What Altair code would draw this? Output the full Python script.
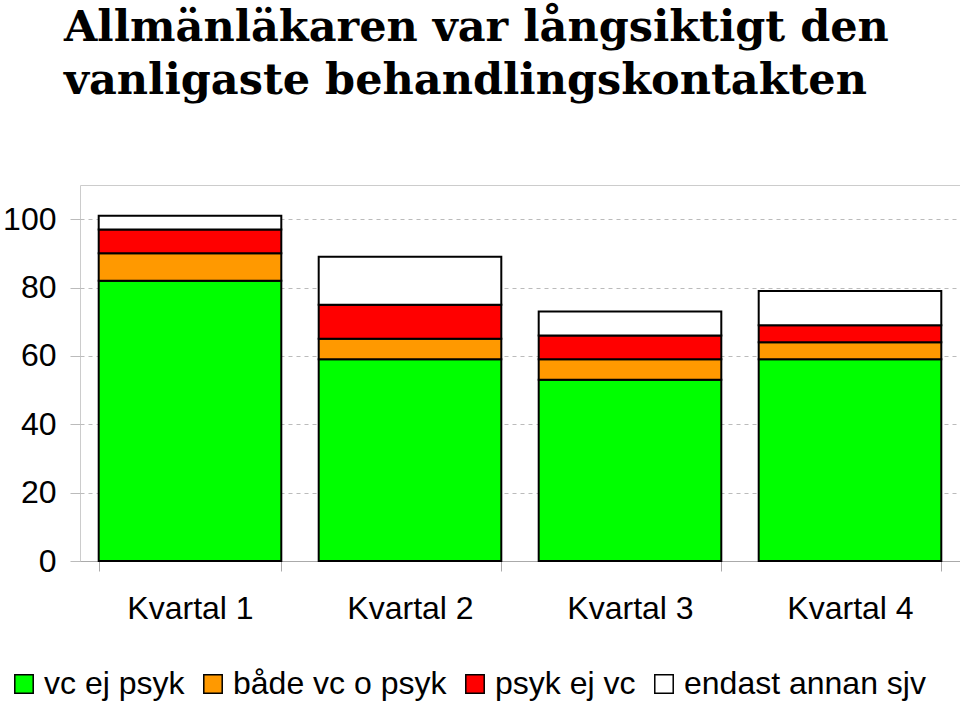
import altair as alt
import pandas as pd

quarters = ["Kvartal 1", "Kvartal 2", "Kvartal 3", "Kvartal 4"]
series = ["vc ej psyk", "både vc o psyk", "psyk ej vc", "endast annan sjv"]
colors = ["#00ff00", "#ff9900", "#ff0000", "#ffffff"]
vc_ej_psyk = [82, 59, 53, 59]
bade_vc_o_psyk = [8, 6, 6, 5]
psyk_ej_vc = [7, 10, 7, 5]
endast_annan_sjv = [4, 14, 7, 10]
y_ticks = [0, 20, 40, 60, 80, 100]

rows = []
for i, q in enumerate(quarters):
    for j, (s, vals) in enumerate(zip(series, [vc_ej_psyk, bade_vc_o_psyk, psyk_ej_vc, endast_annan_sjv])):
        rows.append({"kvartal": q, "grupp": s, "andel": vals[i], "ordning": j})
df = pd.DataFrame(rows)

font = "Liberation Sans"

chart = alt.Chart(df).mark_bar(stroke="black", strokeWidth=2).encode(
    x=alt.X("kvartal:N", sort=quarters, title=None,
            scale=alt.Scale(paddingInner=0.17, paddingOuter=0.085),
            axis=alt.Axis(labelAngle=0, labelFont=font, labelFontSize=32, labelColor="black",
                          labelPadding=22, tickBand="extent", tickSize=10, tickColor="#aaaaaa",
                          domainColor="#aaaaaa", domainWidth=1, grid=False)),
    y=alt.Y("andel:Q", stack="zero", title=None,
            scale=alt.Scale(domain=[0, 110], nice=False),
            axis=alt.Axis(values=y_ticks, labelFont=font, labelFontSize=32, labelColor="black",
                          labelPadding=14, tickSize=10, tickColor="#bbbbbb", domain=False,
                          grid=True, gridColor="#bbbbbb", gridDash=[4, 4], gridWidth=1)),
    color=alt.Color("grupp:N", sort=series,
                    scale=alt.Scale(domain=series, range=colors),
                    legend=alt.Legend(title=None, orient="none", direction="horizontal",
                                      legendX=-72, legendY=483, columns=4,
                                      symbolType="square", symbolSize=340,
                                      symbolStrokeColor="black", symbolStrokeWidth=1.5,
                                      symbolOpacity=1,
                                      labelFont=font, labelFontSize=32, labelColor="black",
                                      labelOffset=4, columnPadding=12, labelLimit=400)),
    order=alt.Order("ordning:Q", sort="ascending"),
).properties(
    width=880,
    height=376,
    padding={"left": 80, "top": 185, "right": 0, "bottom": 142},
    autosize=alt.AutoSizeParams(type="none"),
    title=alt.TitleParams(
        text=["Allmänläkaren var långsiktigt den", "vanligaste behandlingskontakten"],
        font="DejaVu Serif", fontSize=43, fontWeight="bold", color="black",
        anchor="start", frame="group", dx=-16, offset=82, lineHeight=53,
    ),
).configure_view(stroke="#cccccc", strokeWidth=1)

chart.save("out.html", embed_options={"renderer": "svg", "actions": False})
